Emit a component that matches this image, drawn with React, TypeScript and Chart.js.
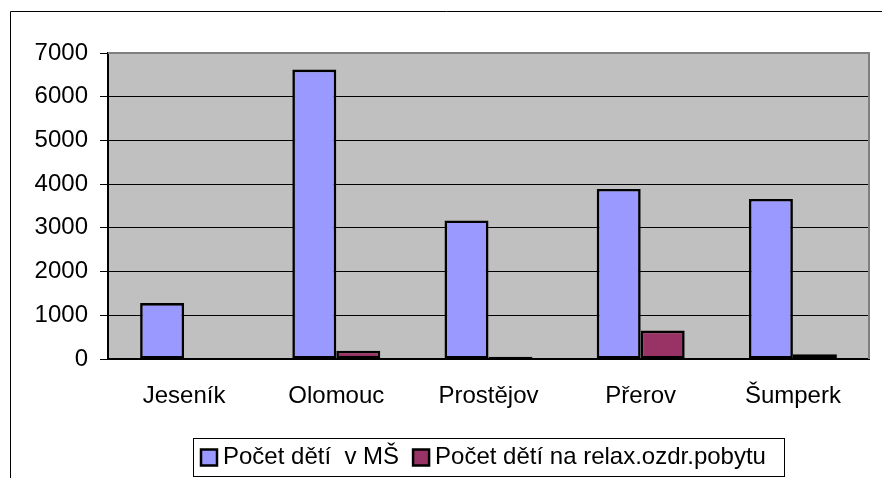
import React, { useEffect, useRef } from "react";
import { Chart, registerables } from "chart.js";

Chart.register(...registerables);

const categories = ["Jeseník", "Olomouc", "Prostějov", "Přerov", "Šumperk"];
const seriesNames = ["Počet dětí  v MŠ", "Počet dětí na relax.ozdr.pobytu"];
const childrenInMS = [1280, 6620, 3170, 3890, 3660];
const childrenRelax = [0, 190, 50, 650, 110];
const seriesColors = ["#9999FF", "#993366"];
const yMin = 0;
const yMax = 7000;
const yStep = 1000;

const FONT = "'Liberation Sans', Arial, sans-serif";
const FONT_SIZE = 24;

const framePlugin = {
  id: "frame",
  beforeDraw(chart: any) {
    const { ctx, chartArea } = chart;
    ctx.save();
    ctx.fillStyle = "#ffffff";
    ctx.fillRect(0, 0, chart.width, chart.height);
    ctx.fillStyle = "#C0C0C0";
    ctx.fillRect(chartArea.left, chartArea.top, chartArea.right - chartArea.left, chartArea.bottom - chartArea.top);
    ctx.strokeStyle = "#000000";
    ctx.lineWidth = 1;
    ctx.beginPath();
    ctx.moveTo(10.5, chart.height);
    ctx.lineTo(10.5, 11.5);
    ctx.lineTo(chart.width, 11.5);
    ctx.stroke();
    ctx.restore();
  },
  afterDraw(chart: any) {
    const { ctx, chartArea } = chart;
    ctx.save();
    // plot area gray border (top + right)
    ctx.strokeStyle = "#808080";
    ctx.lineWidth = 2;
    ctx.beginPath();
    ctx.moveTo(chartArea.left, chartArea.top);
    ctx.lineTo(chartArea.right, chartArea.top);
    ctx.lineTo(chartArea.right, chartArea.bottom);
    ctx.stroke();

    // legend
    const datasets = chart.data.datasets;
    ctx.font = `${FONT_SIZE}px ${FONT}`;
    ctx.textBaseline = "middle";
    ctx.textAlign = "left";
    const boxX = 193.5, boxY = 438.5, boxW = 591, boxH = 38;
    ctx.fillStyle = "#ffffff";
    ctx.fillRect(boxX, boxY, boxW, boxH);
    ctx.strokeStyle = "#000000";
    ctx.lineWidth = 1;
    ctx.strokeRect(boxX, boxY, boxW, boxH);
    let x = 201;
    const cy = 457.5;
    datasets.forEach((ds: any) => {
      ctx.fillStyle = ds.backgroundColor;
      ctx.fillRect(x, cy - 8, 16, 16);
      ctx.strokeStyle = "#000000";
      ctx.lineWidth = 2.5;
      ctx.strokeRect(x, cy - 8, 16, 16);
      ctx.fillStyle = "#000000";
      const tx = x + 22;
      ctx.fillText(ds.label, tx, cy);
      x = tx + ctx.measureText(ds.label).width + 14;
    });
    ctx.restore();
  },
};

export default function App() {
  const ref = useRef<HTMLCanvasElement>(null);
  useEffect(() => {
    document.body.style.margin = "0";
    const chart = new Chart(ref.current!, {
      type: "bar",
      data: {
        labels: categories,
        datasets: [
          {
            label: seriesNames[0],
            data: childrenInMS,
            backgroundColor: seriesColors[0],
            borderColor: "#000000",
            borderWidth: 2.6,
            borderSkipped: false,
            categoryPercentage: 0.578,
            barPercentage: 1,
          },
          {
            label: seriesNames[1],
            data: childrenRelax,
            backgroundColor: seriesColors[1],
            borderColor: "#000000",
            borderWidth: 2.6,
            borderSkipped: false,
            categoryPercentage: 0.578,
            barPercentage: 1,
          },
        ],
      },
      options: {
        animation: false,
        responsive: false,
        devicePixelRatio: 1,
        layout: { padding: { top: 53, right: 13, left: 0, bottom: 0 } },
        plugins: { legend: { display: false }, tooltip: { enabled: false } },
        scales: {
          x: {
            grid: { display: false, drawTicks: false },
            border: { display: true, color: "#000000", width: 2 },
            ticks: { color: "#000000", font: { family: FONT, size: FONT_SIZE }, padding: 23, maxRotation: 0 },
            afterFit(scale: any) {
              scale.height = 119;
            },
          },
          y: {
            min: yMin,
            max: yMax,
            grid: { color: "#000000", lineWidth: 1, tickLength: 8, drawTicks: true },
            border: { display: true, color: "#000000", width: 2 },
            ticks: {
              stepSize: yStep,
              color: "#000000",
              font: { family: FONT, size: FONT_SIZE },
              padding: 12,
              callback: (v: any) => String(v),
            },
            afterFit(scale: any) {
              scale.width = 108;
            },
          },
        },
      },
      plugins: [framePlugin],
    });
    return () => chart.destroy();
  }, []);
  return (
    <div style={{ position: "absolute", left: 0, top: 0, width: 882, height: 478 }}>
      <canvas ref={ref} width={882} height={478} style={{ width: 882, height: 478 }} />
    </div>
  );
}
